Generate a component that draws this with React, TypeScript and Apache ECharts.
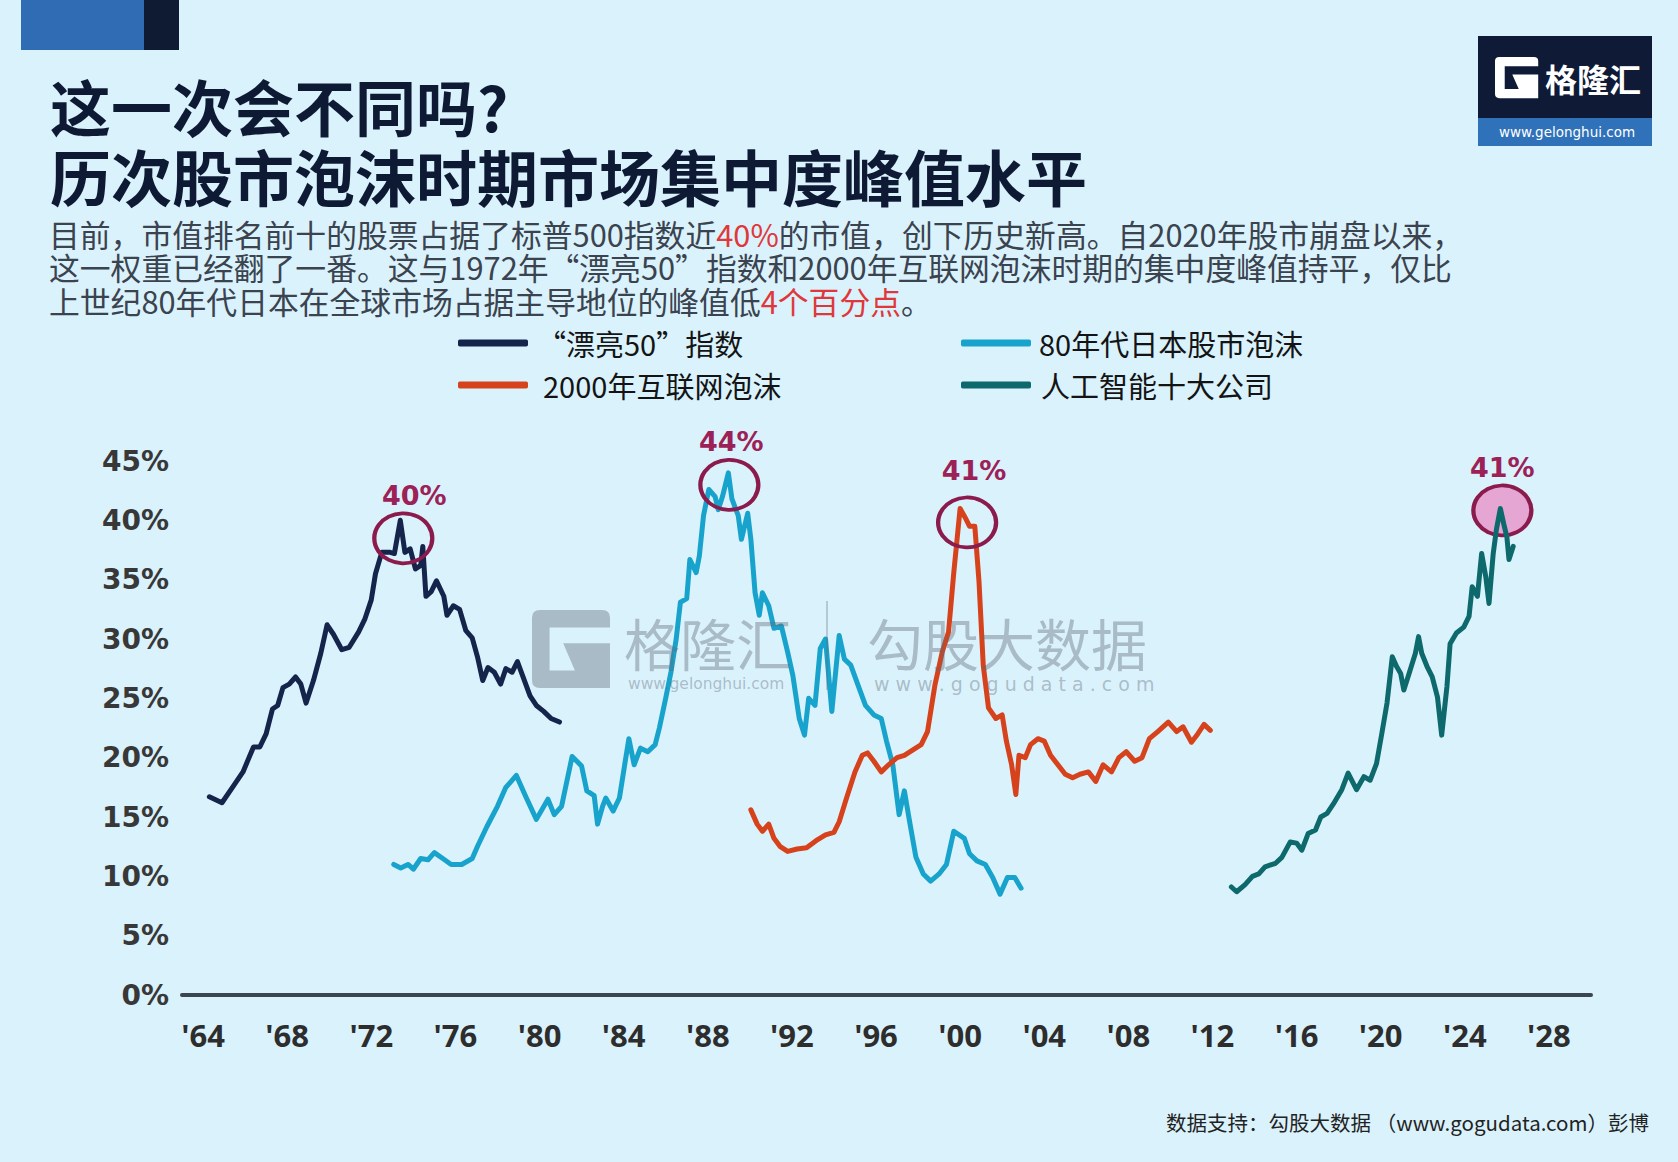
import React, { useEffect, useRef } from 'react';
import * as echarts from 'echarts';

// ---- data: concentration of market cap at each bubble (% of index) ----
const glamourFifty: [number, number][] = [
  [1964.3, 16.7], [1964.9, 16.2], [1965.4, 17.5], [1965.9, 18.8], [1966.4, 20.9], [1966.7, 20.9],
  [1967.0, 22.0], [1967.3, 24.1], [1967.55, 24.4], [1967.8, 25.9], [1968.1, 26.2], [1968.4, 26.8],
  [1968.65, 26.2], [1968.9, 24.6], [1969.25, 26.5], [1969.6, 28.8], [1969.9, 31.2], [1970.2, 30.4],
  [1970.6, 29.1], [1970.95, 29.3], [1971.4, 30.6], [1971.7, 31.7], [1972.0, 33.3], [1972.2, 35.5],
  [1972.5, 37.3], [1972.9, 37.3], [1973.1, 37.2], [1973.38, 40], [1973.6, 37.3], [1973.85, 37.6],
  [1974.1, 35.9], [1974.35, 36.2], [1974.45, 37.8], [1974.6, 33.6], [1974.85, 34.0], [1975.1, 34.9],
  [1975.45, 33.6], [1975.6, 32.0], [1975.9, 32.8], [1976.2, 32.5], [1976.5, 30.7], [1976.8, 30.1],
  [1977.05, 28.5], [1977.3, 26.5], [1977.55, 27.6], [1977.85, 27.2], [1978.15, 26.2], [1978.4, 27.5],
  [1978.7, 27.2], [1978.95, 28.1], [1979.2, 26.9], [1979.55, 25.2], [1979.85, 24.4], [1980.2, 23.9],
  [1980.55, 23.3], [1980.95, 23.0],
];

const japanEighties: [number, number][] = [
  [1973.07, 11.0], [1973.4, 10.7], [1973.75, 11.0], [1974.0, 10.6], [1974.35, 11.5], [1974.7, 11.4],
  [1975.0, 12.0], [1975.4, 11.5], [1975.8, 11.0], [1976.3, 11.0], [1976.8, 11.5], [1977.07, 12.6],
  [1977.5, 14.2], [1978.0, 15.9], [1978.4, 17.5], [1978.9, 18.5], [1979.35, 16.7], [1979.85, 14.8],
  [1980.4, 16.5], [1980.7, 15.2], [1981.05, 15.9], [1981.55, 20.1], [1982.0, 19.3], [1982.25, 17.2],
  [1982.6, 16.8], [1982.76, 14.4], [1983.0, 15.9], [1983.15, 16.6], [1983.5, 15.5], [1983.8, 16.6],
  [1984.05, 19.4], [1984.25, 21.6], [1984.5, 19.4], [1984.8, 20.8], [1985.15, 20.5], [1985.5, 21.1],
  [1985.7, 22.5], [1986.0, 25.0], [1986.25, 27.2], [1986.5, 30.0], [1986.7, 33.1], [1987.0, 33.4],
  [1987.15, 36.7], [1987.45, 35.6], [1987.6, 37.0], [1987.8, 40.4], [1988.05, 42.6], [1988.35, 42.0],
  [1988.5, 40.9], [1988.7, 42.0], [1988.98, 44], [1989.15, 41.8], [1989.45, 40.4], [1989.6, 38.4],
  [1989.9, 40.6], [1990.05, 38.4], [1990.25, 33.9], [1990.45, 32.0], [1990.6, 33.9], [1990.9, 32.8],
  [1991.15, 30.9], [1991.5, 31.1], [1991.8, 28.9], [1992.05, 26.9], [1992.35, 23.3], [1992.6, 21.9],
  [1992.8, 25.0], [1993.1, 24.4], [1993.35, 29.2], [1993.6, 30.0], [1993.9, 23.9], [1994.25, 30.3],
  [1994.5, 28.3], [1994.8, 27.8], [1995.15, 26.1], [1995.5, 24.4], [1995.9, 23.6], [1996.25, 23.3],
  [1996.5, 21.4], [1996.8, 19.4], [1997.1, 15.2], [1997.35, 17.2], [1997.6, 14.6], [1997.9, 11.6],
  [1998.25, 10.2], [1998.6, 9.6], [1999.0, 10.2], [1999.35, 11.0], [1999.7, 13.8], [2000.2, 13.2],
  [2000.45, 11.9], [2000.8, 11.3], [2001.2, 11.0], [2001.55, 9.9], [2001.9, 8.5], [2002.25, 9.9],
  [2002.6, 9.9], [2002.9, 9.0],
];

const dotcomBubble: [number, number][] = [
  [1990.05, 15.6], [1990.35, 14.4], [1990.6, 13.8], [1990.9, 14.4], [1991.15, 13.2], [1991.45, 12.5],
  [1991.8, 12.1], [1992.25, 12.3], [1992.7, 12.4], [1993.15, 13.0], [1993.6, 13.5], [1994.0, 13.7],
  [1994.25, 14.6], [1994.6, 16.6], [1995.0, 18.8], [1995.35, 20.2], [1995.6, 20.4], [1995.9, 19.7],
  [1996.25, 18.8], [1996.6, 19.4], [1997.0, 20.0], [1997.35, 20.2], [1997.7, 20.6], [1998.15, 21.1],
  [1998.45, 22.2], [1998.8, 26.1], [1999.15, 28.9], [1999.45, 30.6], [1999.7, 35.6], [2000.0, 41],
  [2000.25, 40.2], [2000.45, 39.5], [2000.7, 39.5], [2000.9, 34.8], [2001.1, 27.8], [2001.35, 24.2],
  [2001.7, 23.3], [2002.0, 23.6], [2002.2, 21.4], [2002.45, 19.4], [2002.65, 16.9], [2002.8, 20.2],
  [2003.1, 20.0], [2003.35, 21.1], [2003.7, 21.6], [2004.0, 21.4], [2004.3, 20.2], [2004.65, 19.4],
  [2005.0, 18.6], [2005.35, 18.3], [2005.7, 18.6], [2006.1, 18.8], [2006.45, 18.0], [2006.8, 19.4],
  [2007.2, 18.8], [2007.55, 20.0], [2007.9, 20.5], [2008.3, 19.7], [2008.65, 20.0], [2009.0, 21.6],
  [2009.4, 22.2], [2009.9, 23.0], [2010.3, 22.2], [2010.6, 22.6], [2011.0, 21.3], [2011.3, 22.0],
  [2011.6, 22.8], [2011.9, 22.3],
];

const aiTopTen: [number, number][] = [
  [2012.9, 9.1], [2013.15, 8.7], [2013.55, 9.3], [2013.9, 10.0], [2014.2, 10.2], [2014.5, 10.8],
  [2015.0, 11.1], [2015.3, 11.6], [2015.7, 12.9], [2016.0, 12.8], [2016.25, 12.2], [2016.55, 13.6],
  [2016.9, 13.9], [2017.15, 15.0], [2017.45, 15.3], [2017.75, 16.1], [2018.15, 17.3], [2018.45, 18.7],
  [2018.85, 17.3], [2019.2, 18.4], [2019.5, 18.1], [2019.8, 19.5], [2020.05, 22.0], [2020.3, 24.6],
  [2020.55, 28.5], [2020.75, 27.7], [2020.95, 27.1], [2021.1, 25.7], [2021.35, 27.1], [2021.65, 28.8],
  [2021.8, 30.2], [2021.95, 28.8], [2022.2, 27.7], [2022.45, 26.8], [2022.7, 25.1], [2022.9, 21.9],
  [2023.15, 26.0], [2023.3, 29.6], [2023.6, 30.5], [2023.95, 31.0], [2024.2, 31.9], [2024.35, 34.4],
  [2024.6, 33.6], [2024.8, 37.2], [2025.0, 35.2], [2025.15, 33.0], [2025.35, 37.2], [2025.5, 39.2],
  [2025.69, 41], [2025.85, 39.7], [2026.0, 38.6], [2026.1, 36.7], [2026.3, 37.8],
];

const seriesNames = ['“漂亮50”指数', '80年代日本股市泡沫', '2000年互联网泡沫', '人工智能十大公司'];
const seriesColors = ['#14244b', '#18a3cc', '#d6421b', '#0d696c'];

// peak of each bubble: [year, value]
const peakPoints: [number, number][] = [[1973.38, 40], [1988.98, 44], [2000.0, 41], [2025.69, 41]];

const xLabelYears = [1964, 1968, 1972, 1976, 1980, 1984, 1988, 1992, 1996, 2000, 2004, 2008, 2012, 2016, 2020, 2024, 2028];

// G mark used by the brand logo and the watermark
const G_PATH = 'M4 0H36Q40 0 40 4V9H9V31H22L16 17H40V40H4Q0 40 0 36V4Q0 0 4 0Z';
echarts.graphic.registerShape('glogo', echarts.graphic.extendPath(G_PATH, {}));

const CJK = '"Noto Sans CJK SC", "Noto Sans", sans-serif';
const TITLE_COLOR = '#0e1a34';
const PEAK_COLOR = '#8c1b4d';
const MARK_GRAY = 'rgba(95,105,118,0.4)';

function buildOption() {
  const seriesData = [glamourFifty, japanEighties, dotcomBubble, aiTopTen];
  const markerShift: [number, number][] = [[3, 18], [1, 12], [7, 14], [2, 2]];
  const labelShift: [number, number][] = [[11, -43], [2, -43], [7, -52], [0, -43]];
  const markerFill = ['rgba(0,0,0,0)', 'rgba(0,0,0,0)', 'rgba(0,0,0,0)', 'rgba(236,120,186,0.62)'];

  const series = seriesData.map((data, i) => ({
    name: seriesNames[i],
    type: 'line',
    data,
    showSymbol: false,
    symbol: 'none',
    lineStyle: { color: seriesColors[i], width: 5, join: 'round', cap: 'round' },
    itemStyle: { color: seriesColors[i] },
    z: 2 + i,
    markPoint: {
      symbol: 'circle',
      symbolSize: [58, 50],
      symbolOffset: markerShift[i],
      itemStyle: { color: markerFill[i], borderColor: PEAK_COLOR, borderWidth: 4 },
      label: {
        show: true,
        position: 'inside',
        offset: labelShift[i],
        formatter: () => `${peakPoints[i][1]}%`,
        color: '#9b2157',
        fontSize: 27,
        fontWeight: 'bold',
        fontFamily: '"DejaVu Sans", sans-serif',
      },
      data: [{ coord: peakPoints[i], value: peakPoints[i][1] }],
    },
  }));

  const legendBase = {
    icon: 'roundRect',
    itemWidth: 70,
    itemHeight: 7,
    padding: 0,
    selectedMode: false,
  };
  const legendText = (pad: number) => ({
    fontSize: 29,
    color: '#141414',
    fontFamily: CJK,
    lineHeight: 36,
    padding: [0, 0, 0, pad],
  });

  const graphic: any[] = [
    // header blocks
    { type: 'rect', shape: { x: 21, y: 0, width: 123, height: 50 }, style: { fill: '#2f6cb3' } },
    { type: 'rect', shape: { x: 144, y: 0, width: 35, height: 50 }, style: { fill: '#0f1a33' } },
    // title
    {
      type: 'text', x: 50, y: 105,
      style: { text: '这一次会不同吗?', fill: TITLE_COLOR, fontSize: 61, lineHeight: 64, fontWeight: 'bold', fontFamily: CJK, verticalAlign: 'middle' },
    },
    {
      type: 'text', x: 50, y: 175,
      style: { text: '历次股市泡沫时期市场集中度峰值水平', fill: TITLE_COLOR, fontSize: 61, lineHeight: 64, fontWeight: 'bold', fontFamily: CJK, verticalAlign: 'middle' },
    },
    // subtitle
    ...[
      '目前，市值排名前十的股票占据了标普500指数近{r|40%}的市值，创下历史新高。自2020年股市崩盘以来，',
      '这一权重已经翻了一番。这与1972年“漂亮50”指数和2000年互联网泡沫时期的集中度峰值持平，仅比',
      '上世纪80年代日本在全球市场占据主导地位的峰值低{r|4个百分点}。',
    ].map((line, k) => ({
      type: 'text', x: 49, y: 233 + k * 33.5,
      style: {
        text: line, fill: '#3a434e', fontSize: 30.8, lineHeight: 32, fontFamily: CJK, verticalAlign: 'middle',
        rich: { r: { fill: '#e0383a', fontSize: 30.8, lineHeight: 32, fontFamily: CJK } },
      },
    })),
    // brand logo
    { type: 'rect', shape: { x: 1478, y: 36, width: 174, height: 83 }, style: { fill: '#0f1a36' } },
    { type: 'rect', shape: { x: 1478, y: 118, width: 174, height: 28 }, style: { fill: '#2f72b9' } },
    { type: 'glogo', x: 1495, y: 57, scaleX: 1.08, scaleY: 1.03, style: { fill: '#ffffff' } },
    {
      type: 'text', x: 1545, y: 78,
      style: { text: '格隆汇', fill: '#ffffff', fontSize: 32, lineHeight: 34, fontWeight: 'bold', fontFamily: CJK, verticalAlign: 'middle' },
    },
    {
      type: 'text', x: 1567, y: 132,
      style: { text: 'www.gelonghui.com', fill: '#ffffff', fontSize: 13.5, lineHeight: 15, fontFamily: '"DejaVu Sans", sans-serif', align: 'center', verticalAlign: 'middle' },
    },
    // watermark
    { type: 'glogo', x: 532, y: 610, scaleX: 1.95, scaleY: 1.95, z: 50, style: { fill: MARK_GRAY } },
    {
      type: 'text', x: 624, y: 641, z: 50,
      style: { text: '格隆汇', fill: MARK_GRAY, fontSize: 56, lineHeight: 56, fontFamily: CJK, verticalAlign: 'middle' },
    },
    {
      type: 'text', x: 628, y: 684, z: 50,
      style: { text: 'www.gelonghui.com', fill: MARK_GRAY, fontSize: 15.5, lineHeight: 16, fontFamily: '"DejaVu Sans", sans-serif', verticalAlign: 'middle' },
    },
    { type: 'line', z: 50, shape: { x1: 827, y1: 601, x2: 827, y2: 690 }, style: { stroke: 'rgba(95,105,118,0.3)', lineWidth: 2 } },
    {
      type: 'text', x: 867, y: 641, z: 50,
      style: { text: '勾股大数据', fill: MARK_GRAY, fontSize: 56, lineHeight: 56, fontFamily: CJK, verticalAlign: 'middle' },
    },
    {
      type: 'text', x: 874, y: 684, z: 50,
      style: { text: 'w w w . g o g u d a t a . c o m', fill: MARK_GRAY, fontSize: 19, lineHeight: 20, fontFamily: '"DejaVu Sans", sans-serif', verticalAlign: 'middle' },
    },
    // source note
    {
      type: 'text', x: 1649, y: 1122,
      style: { text: '数据支持：勾股大数据 （www.gogudata.com）彭博', fill: '#222222', fontSize: 20.5, lineHeight: 22, fontFamily: CJK, align: 'right', verticalAlign: 'middle' },
    },
  ];

  return {
    animation: false,
    backgroundColor: '#daf2fc',
    grid: { left: 182, right: 87, top: 461, bottom: 167, containLabel: false },
    legend: [
      { ...legendBase, data: [seriesNames[0]], left: 458, top: 325, textStyle: legendText(4) },
      { ...legendBase, data: [seriesNames[1]], left: 961, top: 325, textStyle: legendText(3) },
      { ...legendBase, data: [seriesNames[2]], left: 458, top: 367, textStyle: legendText(10) },
      { ...legendBase, data: [seriesNames[3]], left: 961, top: 367, textStyle: legendText(5) },
    ],
    xAxis: {
      type: 'value',
      min: 1963,
      max: 2030,
      interval: 1,
      axisLine: { show: true, lineStyle: { color: '#3b4650', width: 4 } },
      axisTick: { show: false },
      splitLine: { show: false },
      axisLabel: {
        margin: 24,
        fontSize: 31,
        fontWeight: 'bold',
        color: '#2d2d2d',
        fontFamily: '"Open Sans", Roboto, sans-serif',
        formatter: (v: number) => (xLabelYears.includes(v) ? "'" + String(v).slice(2) : ''),
      },
    },
    yAxis: {
      type: 'value',
      min: 0,
      max: 45,
      interval: 5,
      axisLine: { show: false },
      axisTick: { show: false },
      splitLine: { show: false },
      axisLabel: {
        margin: 13,
        fontSize: 28,
        fontWeight: 'bold',
        color: '#383838',
        fontFamily: '"DejaVu Sans", sans-serif',
        formatter: '{value}%',
      },
    },
    series,
    graphic,
  };
}

export default function App() {
  const ref = useRef<HTMLDivElement>(null);
  useEffect(() => {
    document.body.style.margin = '0';
    if (!ref.current) return;
    const chart = echarts.init(ref.current, undefined, { renderer: 'svg' });
    chart.setOption(buildOption() as any);
    return () => chart.dispose();
  }, []);
  return <div ref={ref} style={{ width: 1678, height: 1162 }} />;
}
